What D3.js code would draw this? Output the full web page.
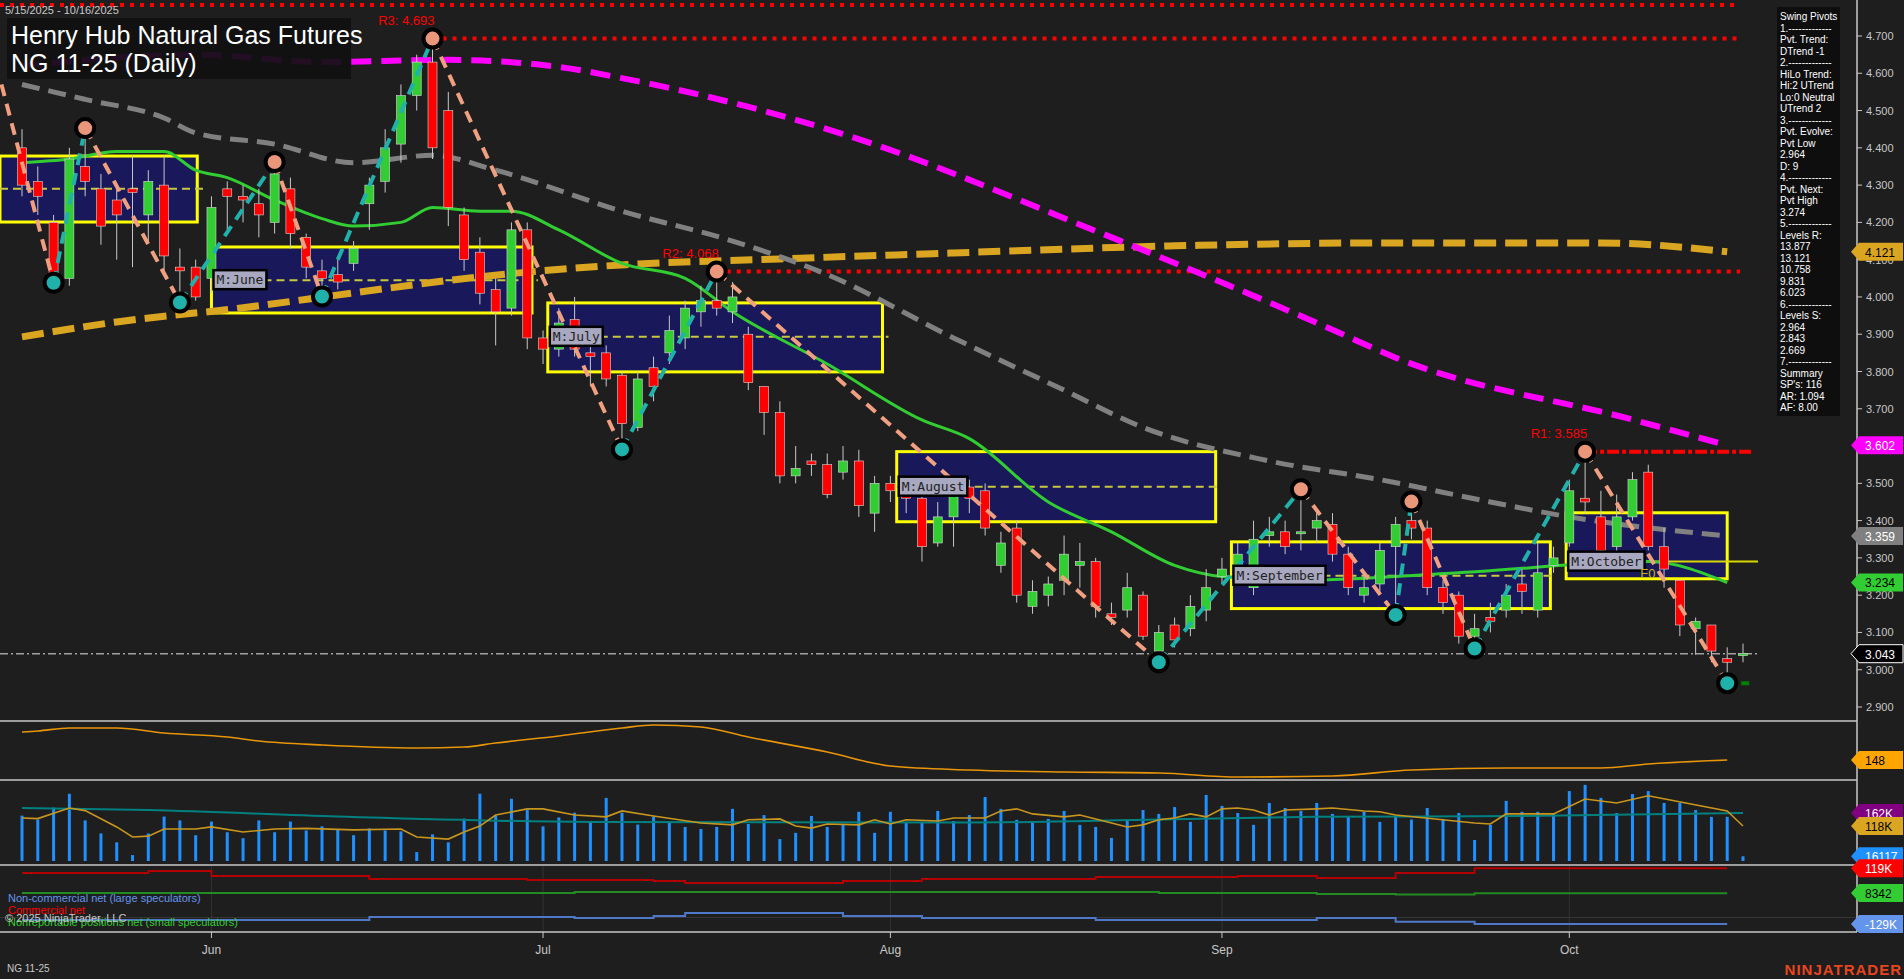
<!DOCTYPE html>
<html>
<head>
<meta charset="utf-8">
<script src="https://cdn.jsdelivr.net/npm/d3@7"></script>
<style>
  body { margin: 0; background: #1e1e1e; overflow: hidden; }
  svg { display: block; font-family: Arial, "Liberation Sans", sans-serif; }
</style>
</head>
<body>
<div id="chart"></div>
<script>
// daily bars 5/15/2025 - 10/16/2025 (index 0..109)
const opens = [4.40,4.31,4.20,4.05,4.35,4.29,4.26,4.29,4.22,4.30, 4.08,4.08,4.05,4.29,4.27,4.25,4.20,4.29,4.16,4.07,
  4.06,4.09,4.25,4.31,4.41,4.54,4.63,4.50,4.22,4.12, 4.02,3.97,4.18,3.89,3.86,3.94,3.85,3.85,3.79,3.65,
  3.81,3.85,3.89,3.96,3.99,3.96,3.90,3.76,3.69,3.52, 3.56,3.55,3.53,3.56,3.42,3.50,3.48,3.46,3.34,3.41,
  3.49,3.48,3.28,3.38,3.17,3.20,3.24,3.28,3.29,3.15, 3.16,3.20,3.05,3.12,3.11,3.16,3.25,3.27,3.22,3.36,
  3.37,3.37,3.38,3.39,3.31,3.20,3.23,3.33,3.40,3.38, 3.22,3.20,3.09,3.14,3.16,3.23,3.16,3.28,3.34,3.46,
  3.41,3.33,3.41,3.53,3.33,3.24,3.11,3.12,3.03,3.04]
const closes = [4.30,4.27,4.05,4.37,4.31,4.19,4.22,4.28,4.31,4.11, 4.07,4.00,4.24,4.27,4.26,4.22,4.33,4.17,4.08,4.05,
  4.04,4.13,4.30,4.40,4.54,4.63,4.40,4.24,4.10,4.01, 3.96,4.18,3.89,3.86,3.93,3.86,3.84,3.78,3.66,3.78,
  3.76,3.91,3.97,3.99,3.97,4.00,3.77,3.69,3.52,3.54, 3.55,3.47,3.56,3.44,3.50,3.48,3.46,3.33,3.41,3.47,
  3.46,3.38,3.34,3.20,3.21,3.23,3.31,3.29,3.17,3.14, 3.22,3.09,3.10,3.08,3.17,3.22,3.27,3.31,3.35,3.37,
  3.33,3.37,3.40,3.31,3.22,3.22,3.32,3.39,3.38,3.22, 3.18,3.09,3.11,3.13,3.20,3.21,3.26,3.30,3.48,3.45,
  3.32,3.41,3.51,3.33,3.27,3.12,3.13,3.05,3.02,3.043]
const highs = [4.45,4.35,4.22,4.40,4.453,4.33,4.30,4.38,4.34,4.38, 4.13,4.10,4.27,4.31,4.30,4.29,4.362,4.32,4.17,4.10,
  4.10,4.15,4.32,4.45,4.57,4.65,4.693,4.55,4.24,4.16, 4.05,4.20,4.20,3.91,3.97,4.00,3.90,3.87,3.80,3.80,
  3.84,3.95,3.99,4.03,4.068,4.04,3.92,3.76,3.72,3.60, 3.58,3.58,3.60,3.59,3.52,3.52,3.50,3.50,3.45,3.51,
  3.51,3.50,3.37,3.40,3.24,3.25,3.36,3.34,3.30,3.18, 3.26,3.21,3.12,3.14,3.20,3.27,3.30,3.34,3.40,3.41,
  3.40,3.484,3.43,3.42,3.33,3.25,3.34,3.41,3.451,3.40, 3.24,3.21,3.15,3.18,3.23,3.27,3.34,3.33,3.51,3.585,
  3.48,3.47,3.53,3.55,3.38,3.24,3.14,3.12,3.06,3.07]
const lows = [4.27,4.22,4.038,4.03,4.27,4.14,4.10,4.08,4.15,4.06, 3.985,3.99,4.01,4.18,4.20,4.16,4.17,4.13,4.05,4.001,
  4.02,4.07,4.18,4.28,4.36,4.50,4.37,4.19,4.07,3.98, 3.87,3.95,3.86,3.82,3.84,3.84,3.76,3.76,3.591,3.64,
  3.72,3.82,3.86,3.92,3.95,3.93,3.75,3.63,3.50,3.50, 3.52,3.46,3.51,3.41,3.37,3.45,3.42,3.29,3.33,3.33,
  3.42,3.36,3.26,3.18,3.15,3.17,3.20,3.22,3.14,3.12, 3.14,3.08,3.02,3.06,3.09,3.13,3.23,3.25,3.20,3.33,
  3.31,3.32,3.34,3.29,3.20,3.18,3.21,3.147,3.35,3.20, 3.15,3.07,3.057,3.10,3.14,3.15,3.14,3.26,3.33,3.42,
  3.30,3.31,3.40,3.32,3.22,3.09,3.04,3.02,2.964,3.02]
const volumes = [153,140,180,227,137,93,63,20,93,150, 137,87,133,97,77,137,97,133,103,117,
  107,87,110,103,100,30,90,63,143,227, 153,210,173,117,147,163,130,213,163,123, 150,133,
  115,108,115,176,125,155,74,95,152,115, 122,166,95,166,132,132,169,135,155,216, 176,139,132,142,169,122,115,78,135,172,
  159,182,132,223,186,162,122,196,179,169, 196,159,152,166,132,150,140,
  179,142,162,71,122,203,166,166,162,236, 257,213,162,226,236,196,196,172,149,149,16]

// month axis
const monthLabels = ['Jun', 'Jul', 'Aug', 'Sep', 'Oct']
const monthStartIdx = [12, 33, 55, 76, 98]
const priceTicks = [4.7, 4.6, 4.5, 4.4, 4.3, 4.2, 4.1, 4.0, 3.9, 3.8, 3.7, 3.6, 3.5, 3.4, 3.3, 3.2, 3.1, 3.0, 2.9]

// moving averages [index, price]
const maFast = [[0,4.36],[3,4.37],[6,4.39],[9,4.39],[11,4.34],[13,4.32],[16,4.26],[19,4.21],[21,4.19],[24,4.20],[26,4.24],[29,4.23],[31,4.23],[34,4.18],[38,4.09],[42,4.05],[45,3.96],[51,3.82],[57,3.67],[60,3.62],[65,3.45],[69,3.37],[73,3.28],[76,3.25],[81,3.24],[91,3.26],[103,3.29],[108,3.234]]
const maMid = [[0,4.57],[4,4.53],[9,4.48],[11,4.44],[16,4.41],[21,4.36],[26,4.38],[30,4.34],[38,4.23],[45,4.15],[51,4.06],[59,3.89],[66,3.75],[71,3.65],[79,3.56],[86,3.51],[93,3.45],[98,3.41],[108,3.359]]
const maSlow = [[0,4.62],[11,4.65],[19,4.63],[27,4.636],[34,4.617],[38,4.587],[52,4.437],[68,4.177],[83,3.912],[87,3.837],[102,3.671],[108,3.602]]
const maLong = [[0,3.893],[6,3.933],[14,3.971],[21,4.011],[29,4.054],[38,4.086],[48,4.102],[59,4.118],[73,4.137],[87,4.145],[100,4.145],[108,4.121]]

// swing pivots [index, price, type]
const pivots = [[-1.3,4.57,''],[2,4.038,'L'],[4,4.453,'H'],[10,3.985,'L'],[16,4.362,'H'],[19,4.001,'L'],[26,4.693,'H'],[38,3.591,'L'],[44,4.068,'H'],[72,3.02,'L'],[81,3.484,'H'],[87,3.147,'L'],[88,3.451,'H'],[92,3.057,'L'],[99,3.585,'H'],[108,2.964,'L']]
const levelNames = ['', 'R3: 4.693', 'R2: 4.068', 'R1: 3.585']
const levelPrices = [4.783, 4.693, 4.068, 3.585]
const levelStart = [-1.4, 26, 44, 99]

// monthly boxes
const boxNames = ['', 'M:June', 'M:July', 'M:August', 'M:September', 'M:October']
const boxStart = [-1.4, 12, 33.3, 55.4, 76.6, 97.8]
const boxEnd = [11.1, 32.3, 54.5, 75.6, 96.8, 108]
const boxHigh = [4.378, 4.134, 3.984, 3.585, 3.343, 3.421]
const boxLow = [4.201, 3.957, 3.799, 3.397, 3.164, 3.244]
const boxMid = [4.29, 4.045, 3.893, 3.491, 3.252, 3.29]

// lower panels [index, value]
const oscLine = [[0,204],[1,206],[3,212],[6,212],[9,202],[13,194],[15,186],[19,178],[25,172],[28,174],[30,182],[34,196],[38,212],[40,218],[43,214],[46,194],[51,164],[55,136],[60,128],[66,124],[72,122],[77,114],[83,116],[88,128],[94,132],[100,132],[103,140],[108,148]]
const volFast = [[0,145],[1,143],[3,179],[4,170],[6,115],[7,81],[8,84],[9,108],[11,108],[12,115],[14,98],[16,108],[18,110],[21,105],[24,108],[25,81],[27,74],[28,98],[29,118],[30,155],[32,176],[33,176],[35,155],[37,149],[38,169],[40,152],[43,128],[45,122],[46,139],[48,142],[49,118],[50,111],[51,125],[53,122],[54,139],[55,125],[56,139],[58,135],[59,145],[61,145],[62,169],[63,176],[64,159],[66,149],[67,155],[68,142],[70,115],[71,122],[72,139],[73,145],[74,159],[75,149],[76,176],[77,179],[78,172],[79,155],[80,172],[82,176],[83,179],[85,169],[86,166],[87,155],[92,128],[93,125],[94,159],[97,159],[99,209],[101,196],[103,220],[108,169],[109,118]]
const volSlow = [[0,179],[8,172],[20,150],[36,132],[60,130],[72,140],[82,149],[95,152],[109,162]]
const cotCommercial = [[0,97],[8,106],[12,84],[22,71],[32,66],[40,62],[42,53],[52,62],[57,71],[68,80],[77,84],[82,75],[87,97],[92,119],[108,119]]
const cotSmall = [[0,9],[35,13],[72,9],[82,4],[87,2],[92,8],[108,8]]
const cotLarge = [[0,-111],[22,-97],[35,-102],[40,-93],[42,-80],[52,-93],[57,-102],[68,-111],[82,-102],[87,-119],[92,-129],[108,-129]]

const infoLines = ['Swing Pivots', '1.-------------', 'Pvt. Trend:', 'DTrend -1', '2.-------------', 'HiLo Trend:', 'Hi:2 UTrend', 'Lo:0 Neutral', 'UTrend 2', '3.-------------', 'Pvt. Evolve:', 'Pvt Low', '2.964', 'D: 9', '4.-------------', 'Pvt. Next:', 'Pvt High', '3.274', '5.-------------', 'Levels R:', '13.877', '13.121', '10.758', '9.831', '6.023', '6.-------------', 'Levels S:', '2.964', '2.843', '2.669', '7.-------------', 'Summary', "SP's: 116", 'AR: 1.094', 'AF: 8.00']

const W = 1904, H = 979, axisX = 1857
const svg = d3.select('#chart').append('svg').attr('width', W).attr('height', H)
svg.append('rect').attr('width', W).attr('height', H).attr('fill', '#1e1e1e')

const x = d3.scaleLinear().domain([0, 109]).range([22, 1743])
const y = d3.scaleLinear().domain([2.9, 4.7]).range([707, 36])
const yOsc = d3.scaleLinear().domain([108, 224]).range([780, 722])
const yVol = d3.scaleLinear().domain([0, 270]).range([861, 781])
const yCot = d3.scaleLinear().domain([-164, 133]).range([932, 865])

const plot = svg.append('g')
const clip = svg.append('clipPath').attr('id', 'pc').append('rect').attr('x', 0).attr('y', 0).attr('width', axisX).attr('height', 720)
const main = plot.append('g').attr('clip-path', 'url(#pc)')

// monthly boxes
boxNames.forEach((n, i) => {
    const x0 = Math.max(0, x(boxStart[i])), x1 = x(boxEnd[i])
    main.append('rect')
        .attr('x', x0).attr('y', y(boxHigh[i]))
        .attr('width', x1 - x0).attr('height', y(boxLow[i]) - y(boxHigh[i]))
        .attr('fill', '#18185a').attr('stroke', '#ffff00').attr('stroke-width', 3)
    main.append('line')
        .attr('x1', x0).attr('x2', i === 5 ? 1758 : x1 + 6)
        .attr('y1', y(boxMid[i])).attr('y2', y(boxMid[i]))
        .attr('stroke', i === 5 ? '#d8d800' : '#c8c840').attr('stroke-width', 2)
        .attr('stroke-dasharray', i === 5 ? null : '8,5')
})

// levels
levelPrices.forEach((p, i) => {
    main.append('line')
        .attr('x1', Math.max(0, x(levelStart[i]))).attr('x2', i === 3 ? 1752 : 1740)
        .attr('y1', y(p)).attr('y2', y(p))
        .attr('stroke', '#ff0000').attr('stroke-width', 4)
        .attr('stroke-dasharray', i === 3 ? '12,3,4,3' : '4,6')
})
main.append('line').attr('x1', 0).attr('x2', 1760).attr('y1', y(3.043)).attr('y2', y(3.043))
    .attr('stroke', '#a0a0a0').attr('stroke-width', 1.5).attr('stroke-dasharray', '8,3,2,3')
main.append('line').attr('x1', x(108)).attr('x2', 1752).attr('y1', y(2.964)).attr('y2', y(2.964))
    .attr('stroke', '#008000').attr('stroke-width', 4).attr('stroke-dasharray', '8,6')

// moving averages
const maLine = d3.line().x((d) => x(d[0])).y((d) => y(d[1])).curve(d3.curveMonotoneX)
main.append('path').attr('d', maLine(maLong)).attr('fill', 'none')
    .attr('stroke', '#daa520').attr('stroke-width', 7).attr('stroke-dasharray', '22,9')
main.append('path').attr('d', maLine(maSlow)).attr('fill', 'none')
    .attr('stroke', '#ff00ff').attr('stroke-width', 6).attr('stroke-dasharray', '20,10')
main.append('path').attr('d', maLine(maMid)).attr('fill', 'none')
    .attr('stroke', '#808080').attr('stroke-width', 5).attr('stroke-dasharray', '18,9')
main.append('path').attr('d', maLine(maFast)).attr('fill', 'none')
    .attr('stroke', '#32cd32').attr('stroke-width', 3)

// candles
const bars = opens.map((o, i) => ({ i, o, c: closes[i], h: highs[i], l: lows[i] }))
main.selectAll('.wick').data(bars).enter().append('line')
    .attr('x1', (d) => x(d.i)).attr('x2', (d) => x(d.i))
    .attr('y1', (d) => y(d.h)).attr('y2', (d) => y(d.l))
    .attr('stroke', '#c8c8c8').attr('stroke-width', 1)
main.selectAll('.body').data(bars).enter().append('rect')
    .attr('x', (d) => x(d.i) - 4.5).attr('width', 9)
    .attr('y', (d) => y(Math.max(d.o, d.c)))
    .attr('height', (d) => Math.max(2, Math.abs(y(d.o) - y(d.c))))
    .attr('fill', (d) => d.c >= d.o ? '#32cd32' : '#ff0000')
    .attr('stroke', '#d8d8d8').attr('stroke-width', 0.6)

// zigzag
for (let k = 1; k < pivots.length; k++) {
    const a = pivots[k - 1], b = pivots[k]
    main.append('line')
        .attr('x1', x(a[0])).attr('y1', y(a[1])).attr('x2', x(b[0])).attr('y2', y(b[1]))
        .attr('stroke', b[1] > a[1] ? '#20b2aa' : '#f0a080')
        .attr('stroke-width', 4).attr('stroke-dasharray', '12,8')
}
pivots.filter((p) => p[2]).forEach((p) => {
    main.append('circle').attr('cx', x(p[0])).attr('cy', y(p[1])).attr('r', 9)
        .attr('fill', p[2] === 'H' ? '#e9967a' : '#20b2aa')
        .attr('stroke', '#000').attr('stroke-width', 4)
})
levelNames.forEach((n, i) => {
    if (!n) return
    main.append('text').attr('x', x(levelStart[i]) + 2).attr('y', y(levelPrices[i]) - 14)
        .attr('text-anchor', 'end').attr('fill', '#ff0000').attr('font-size', 13).text(n)
})

// box labels
boxNames.forEach((n, i) => {
    if (!n) return
    const bx = x(boxStart[i]) + 2, by = y(boxMid[i]) - 10
    const t = main.append('text').attr('x', bx + 3).attr('y', by + 14)
        .attr('font-family', '"DejaVu Sans Mono", monospace').attr('font-size', 13)
        .attr('fill', '#222').text(n)
    const w = t.node().getComputedTextLength()
    main.insert('rect', () => t.node()).attr('x', bx).attr('y', by)
        .attr('width', w + 6).attr('height', 19)
        .attr('fill', '#a8a8c0').attr('stroke', '#000').attr('stroke-width', 2.5)
})
main.append('text').attr('x', x(102.5)).attr('y', y(3.29) + 16).attr('fill', '#c8b400')
    .attr('font-size', 13).text('F0')

// title
svg.append('text').attr('x', 5).attr('y', 14).attr('fill', '#c8c8c8').attr('font-size', 11).text('5/15/2025 - 10/16/2025')
svg.append('rect').attr('x', 7).attr('y', 18).attr('width', 344).attr('height', 61).attr('fill', '#101010').attr('opacity', 0.92)
svg.append('text').attr('x', 11).attr('y', 44).attr('fill', '#fff').attr('font-size', 25).text('Henry Hub Natural Gas Futures')
svg.append('text').attr('x', 11).attr('y', 72).attr('fill', '#fff').attr('font-size', 25).text('NG 11-25 (Daily)')

// info box
svg.append('rect').attr('x', 1777).attr('y', 7).attr('width', 63).attr('height', 409).attr('fill', '#0e0e0e')
infoLines.forEach((t, i) => {
    svg.append('text').attr('x', 1780).attr('y', 20 + i * 11.5).attr('fill', '#fff').attr('font-size', 10).text(t)
})

// lower panels
const osc = d3.line().x((d) => x(d[0])).y((d) => yOsc(d[1])).curve(d3.curveMonotoneX)
svg.append('path').attr('d', osc(oscLine)).attr('fill', 'none').attr('stroke', '#e8950a').attr('stroke-width', 1.6)

svg.selectAll('.vol').data(volumes).enter().append('rect')
    .attr('x', (d, i) => x(i) - 1.5).attr('width', 3)
    .attr('y', (d) => yVol(d)).attr('height', (d) => yVol(0) - yVol(d))
    .attr('fill', '#1e90ff')
const vl = d3.line().x((d) => x(d[0])).y((d) => yVol(d[1]))
svg.append('path').attr('d', vl.curve(d3.curveMonotoneX)(volSlow)).attr('fill', 'none').attr('stroke', '#008080').attr('stroke-width', 2)
svg.append('path').attr('d', vl.curve(d3.curveLinear)(volFast)).attr('fill', 'none').attr('stroke', '#c8961e').attr('stroke-width', 1.6)

monthStartIdx.forEach((m) => {
    svg.append('line').attr('x1', x(m)).attr('x2', x(m)).attr('y1', 866).attr('y2', 932).attr('stroke', '#333')
})
svg.append('line').attr('x1', 0).attr('x2', axisX).attr('y1', yCot(-100)).attr('y2', yCot(-100)).attr('stroke', '#383838')
const cl = d3.line().x((d) => x(d[0])).y((d) => yCot(d[1])).curve(d3.curveStepAfter)
svg.append('path').attr('d', cl(cotCommercial)).attr('fill', 'none').attr('stroke', '#b40000').attr('stroke-width', 2)
svg.append('path').attr('d', cl(cotSmall)).attr('fill', 'none').attr('stroke', '#228b22').attr('stroke-width', 2)
svg.append('path').attr('d', cl(cotLarge)).attr('fill', 'none').attr('stroke', '#5078c8').attr('stroke-width', 2)

svg.append('text').attr('x', 8).attr('y', 902).attr('fill', '#6495ed').attr('font-size', 11).text('Non-commercial net (large speculators)')
svg.append('text').attr('x', 8).attr('y', 914).attr('fill', '#ff0000').attr('font-size', 11).text('Commercial net')
svg.append('text').attr('x', 8).attr('y', 926).attr('fill', '#32cd32').attr('font-size', 11).text('Nonreportable positions net (small speculators)')
svg.append('text').attr('x', 5).attr('y', 922).attr('fill', '#c8c8c8').attr('font-size', 11).text('© 2025 NinjaTrader, LLC')

// separators and axes
;[721, 780, 865, 932].forEach((sy) => {
    svg.append('line').attr('x1', 0).attr('x2', axisX).attr('y1', sy).attr('y2', sy).attr('stroke', '#c8c8c8').attr('stroke-width', 1.5)
})
svg.append('line').attr('x1', axisX).attr('x2', axisX).attr('y1', 0).attr('y2', 932).attr('stroke', '#c8c8c8').attr('stroke-width', 1.5)
priceTicks.forEach((p) => {
    svg.append('line').attr('x1', axisX).attr('x2', axisX + 5).attr('y1', y(p)).attr('y2', y(p)).attr('stroke', '#c8c8c8')
    svg.append('text').attr('x', 1866).attr('y', y(p) + 4).attr('fill', '#c8c8c8').attr('font-size', 11).text(p.toFixed(3))
})
monthStartIdx.forEach((m, i) => {
    svg.append('line').attr('x1', x(m)).attr('x2', x(m)).attr('y1', 932).attr('y2', 938).attr('stroke', '#c8c8c8')
    svg.append('text').attr('x', x(m)).attr('y', 954).attr('text-anchor', 'middle').attr('fill', '#c8c8c8').attr('font-size', 12).text(monthLabels[i])
})

// right-axis tags
const tag = (ty, label, fill, color, stroke) => {
    svg.append('path')
        .attr('d', `M${axisX - 6},${ty} L${axisX + 2},${ty - 9} L1903,${ty - 9} L1903,${ty + 9} L${axisX + 2},${ty + 9} Z`)
        .attr('fill', fill).attr('stroke', stroke || 'none')
    svg.append('text').attr('x', 1865).attr('y', ty + 5).attr('fill', color).attr('font-size', 12).text(label)
}
tag(y(4.121), '4.121', '#daa520', '#000')
tag(y(3.602), '3.602', '#ff00ff', '#fff')
tag(y(3.359), '3.359', '#808080', '#fff')
tag(y(3.234), '3.234', '#32cd32', '#000')
tag(y(3.043), '3.043', '#000', '#fff', '#fff')
tag(yOsc(148), '148', '#ffa500', '#000')
tag(yVol(162), '162K', '#800080', '#fff')
tag(yVol(118), '118K', '#daa520', '#000')
tag(yVol(16.117), '16117', '#1e90ff', '#fff')
tag(yCot(119), '119K', '#ff0000', '#fff')
tag(yCot(8.342), '8342', '#32cd32', '#000')
tag(yCot(-129), '-129K', '#6495ed', '#fff')

svg.append('text').attr('x', 7).attr('y', 972).attr('fill', '#c8c8c8').attr('font-size', 10).text('NG 11-25')
svg.append('text').attr('x', 1902).attr('y', 975).attr('text-anchor', 'end').attr('fill', '#e8451e')
    .attr('font-size', 15).attr('font-weight', 'bold').attr('letter-spacing', 1).text('NINJATRADER')
</script>
</body>
</html>
